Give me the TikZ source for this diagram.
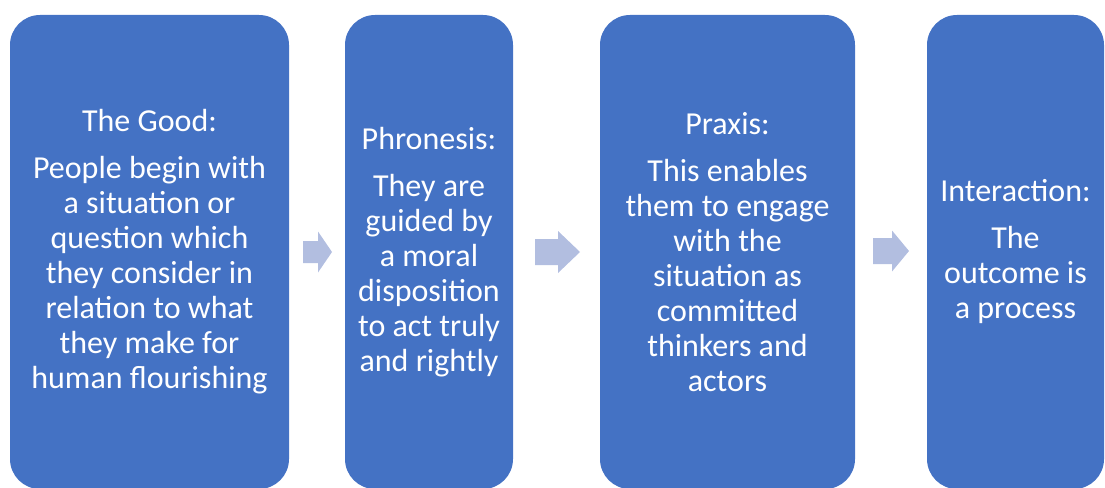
\documentclass[tikz,border=0pt]{standalone}
\usepackage{fontspec}
\setmainfont{Carlito}
\usetikzlibrary{positioning}
\definecolor{stageblue}{RGB}{68,114,196}
\definecolor{flowblue}{RGB}{178,190,224}

\begin{document}
\begin{tikzpicture}[x=1pt, y=-1pt,
        stage/.style={rectangle, rounded corners=30pt, fill=stageblue, text=white, align=center, inner sep=0pt, minimum height=474pt, font=\fontsize{32}{35}\selectfont},
        flow/.style={fill=flowblue}
    ]
        \useasboundingbox (0,0) rectangle (1105,487);
        % Four stages
        \node[stage, minimum width=279pt] (good) at (149.5,252) {The Good:\\[12pt]People begin with\\a situation or\\question which\\they consider in\\relation to what\\they make for\\human flourishing};
        \node[stage, minimum width=168pt] (phron) at (429,252) {Phronesis:\\[12pt]They are\\guided by\\a moral\\disposition\\to act truly\\and rightly};
        \node[stage, minimum width=255pt] (praxis) at (727.5,252) {Praxis:\\[12pt]This enables\\them to engage\\with the\\situation as\\committed\\thinkers and\\actors};
        \node[stage, minimum width=177pt] (inter) at (1015.5,252) {Interaction:\\[12pt]The\\outcome is\\a process};

        % Block arrows between stages
        \coordinate (tip1) at (332,252);
        \coordinate (tip2) at (580,252);
        \coordinate (tip3) at (909,251);
        \fill[flow] (tip1) -- ++(-14,-20.5) -- ++(0,9.5) -- ++(-15,0) -- ++(0,22) -- ++(15,0) -- ++(0,9.5) -- cycle;
        \fill[flow] (tip2) -- ++(-22,-21) -- ++(0,8) -- ++(-23,0) -- ++(0,26) -- ++(23,0) -- ++(0,8) -- cycle;
        \fill[flow] (tip3) -- ++(-17,-20.5) -- ++(0,7.5) -- ++(-19,0) -- ++(0,26) -- ++(19,0) -- ++(0,7.5) -- cycle;
    \end{tikzpicture}
\end{document}
